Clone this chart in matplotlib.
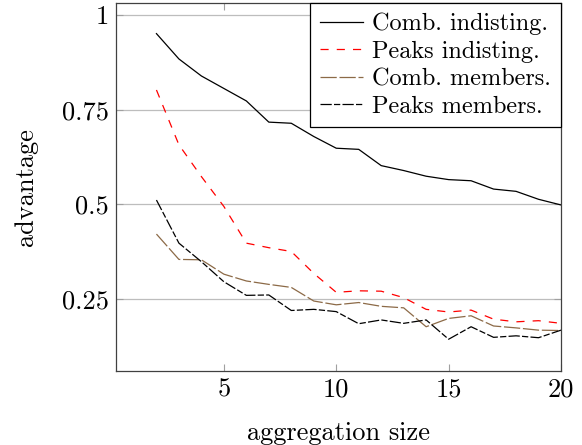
import matplotlib
matplotlib.use("Agg")
import matplotlib.pyplot as plt

# aggregation sizes
sizes = list(range(2, 21))

# advantage per series
comb_indist = [0.951, 0.884, 0.839, 0.806, 0.773, 0.717, 0.714, 0.679, 0.648, 0.645,
               0.602, 0.589, 0.574, 0.565, 0.562, 0.540, 0.534, 0.513, 0.498]
peaks_indist = [0.802, 0.657, 0.573, 0.494, 0.397, 0.385, 0.375, 0.317, 0.267, 0.271,
                0.270, 0.253, 0.222, 0.215, 0.220, 0.196, 0.189, 0.192, 0.185]
comb_members = [0.421, 0.354, 0.353, 0.315, 0.297, 0.288, 0.280, 0.244, 0.234, 0.240,
                0.230, 0.226, 0.176, 0.198, 0.205, 0.178, 0.173, 0.167, 0.166]
peaks_members = [0.511, 0.397, 0.348, 0.295, 0.259, 0.260, 0.219, 0.222, 0.216, 0.184,
                 0.194, 0.185, 0.194, 0.143, 0.176, 0.148, 0.152, 0.147, 0.167]

labels = ["Comb. indisting.", "Peaks indisting.", "Comb. members.", "Peaks members."]
x_ticks = [5, 10, 15, 20]
x_tick_labels = ["5", "10", "15", "20"]
y_ticks = [0.25, 0.5, 0.75, 1.0]
y_tick_labels = ["0.25", "0.5", "0.75", "1"]

plt.rcParams["font.family"] = ["cmr10", "DejaVu Serif"]
plt.rcParams["axes.formatter.use_mathtext"] = True
fs = 19

fig = plt.figure(figsize=(5.82, 4.45), dpi=100)
ax = fig.add_axes([0.1993, 0.1663, 0.9639 - 0.1993, 0.9933 - 0.1663])

lw = 0.9
ax.plot(sizes, comb_indist, color="black", lw=lw, label=labels[0])
ax.plot(sizes, peaks_indist, color="red", lw=lw, dashes=(6.5, 6.5), label=labels[1])
ax.plot(sizes, comb_members, color="#8c6a47", lw=lw, dashes=(13, 2.2), label=labels[2])
ax.plot(sizes, peaks_members, color="black", lw=lw, dashes=(9, 1.8, 5, 1.8), label=labels[3])

ax.set_xlim(0.2, 20)
ax.set_ylim(0.059, 1.032)
ax.set_xticks(x_ticks)
ax.set_xticklabels(x_tick_labels, fontsize=fs)
ax.set_yticks(y_ticks)
ax.set_yticklabels(y_tick_labels, fontsize=fs)
ax.tick_params(direction="in", top=True, right=True, length=5, width=0.8,
               color="#a0a0a0", pad=5)
ax.yaxis.grid(True, color="#bdbdbd", lw=0.9)
ax.set_axisbelow(True)
for s in ax.spines.values():
    s.set_color("#404040")
    s.set_linewidth(0.9)

ax.set_xlabel("aggregation size", fontsize=fs, labelpad=14)
ax.set_ylabel("advantage", fontsize=fs, labelpad=17)

leg = ax.legend(loc="upper right", bbox_to_anchor=(1, 1), borderaxespad=0,
                fontsize=17.5, frameon=True, fancybox=False, framealpha=1,
                edgecolor="black", handlelength=1.8, handletextpad=0.37,
                labelspacing=0.22, borderpad=0.4)
leg.get_frame().set_linewidth(0.9)

fig.savefig("out.png", dpi=100)
